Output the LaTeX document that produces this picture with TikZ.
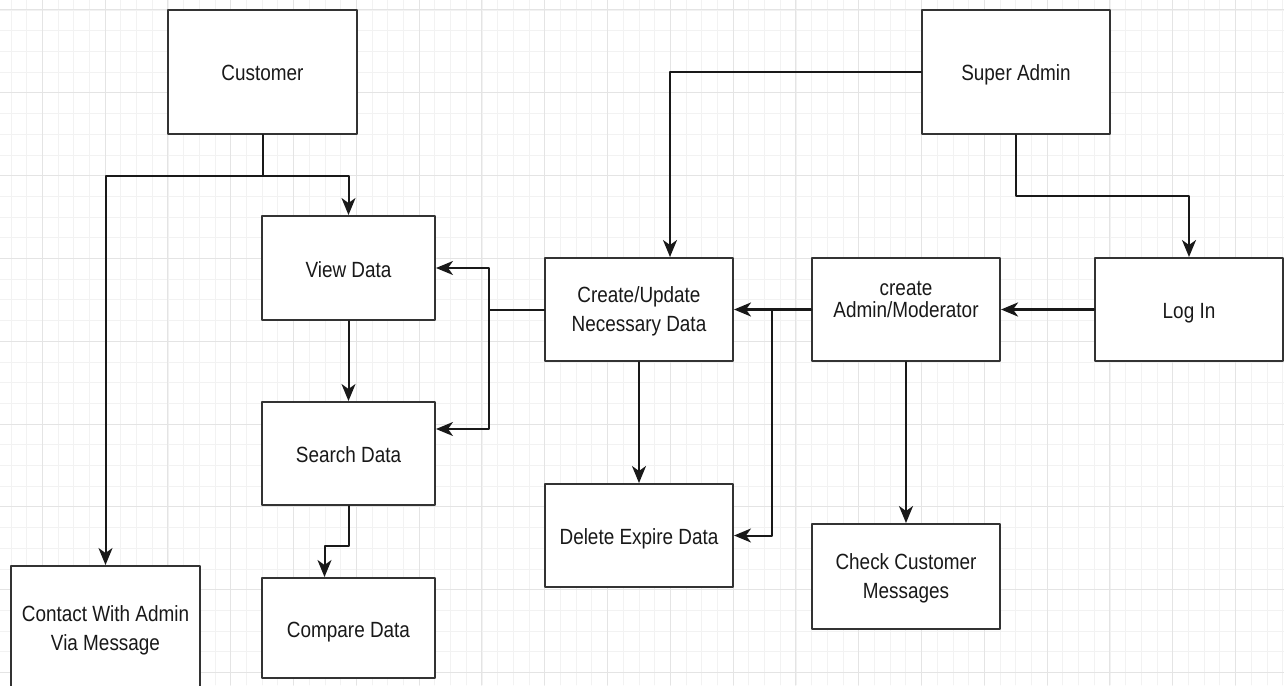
\documentclass[tikz,border=0pt]{standalone}
\usepackage{fontspec}
\setmainfont{Liberation Sans}[FakeStretch=0.86]
\usetikzlibrary{arrows.meta}
\definecolor{boxline}{RGB}{51,51,51}
\definecolor{gridminor}{RGB}{242,242,242}
\definecolor{gridmajor}{RGB}{228,228,228}

\begin{document}
\begin{tikzpicture}[line cap=round,line join=round,>={Stealth[length=17pt,width=14pt,inset=5pt]},x=1pt,y=-1pt,
  box/.style={draw=boxline,line width=2pt,fill=white,align=center,inner sep=0pt,text=black!90,font=\fontsize{22}{29}\selectfont},
  oneline/.style={text height=20pt,text depth=2pt},
  twoline/.style={text depth=-8pt},
  conn/.style={->,line width=2pt,black!90}]
\useasboundingbox (0,0) rectangle (1284,685);
\fill[white] (0,0) rectangle (1284,685);
% grid
\foreach \i in {0,...,81} \draw[gridminor,line width=0.8pt] ({10.9+15.7*\i},0) -- ++(0,685);
\foreach \j in {0,...,32} \draw[gridminor,line width=0.8pt] (0,{10+20.7*\j}) -- ++(1284,0);
\foreach \i in {0,...,19} \draw[gridmajor,line width=1pt] ({42.3+62.8*\i},0) -- ++(0,685);
\foreach \j in {0,...,8} \draw[gridmajor,line width=1pt] (0,{10+82.8*\j}) -- ++(1284,0);
% boxes
\node[box,oneline,minimum width=189pt,minimum height=124pt] (cust) at (262.5,72) {Customer};
\node[box,oneline,minimum width=188pt,minimum height=124pt] (sadm) at (1016,72) {Super Admin};
\node[box,oneline,minimum width=173pt,minimum height=104pt] (view) at (348.5,268) {View Data};
\node[box,twoline,minimum width=188pt,minimum height=103pt] (crup) at (639,309.5) {Create/Update\\Necessary Data};
\node[box,minimum width=188pt,minimum height=103pt,font=\fontsize{22}{22}\selectfont,text depth=21pt] (cadm) at (906,309.5) {create\\Admin/Moderator};
\node[box,oneline,minimum width=188pt,minimum height=103pt] (login) at (1189,309.5) {Log In};
\node[box,oneline,minimum width=173pt,minimum height=103pt] (srch) at (348.5,453.5) {Search Data};
\node[box,oneline,minimum width=188pt,minimum height=103pt] (dele) at (639,535.5) {Delete Expire Data};
\node[box,twoline,minimum width=188pt,minimum height=105pt] (chk) at (906,576.5) {Check Customer\\Messages};
\node[box,twoline,minimum width=189pt,minimum height=124pt] (cont) at (105.5,628) {Contact With Admin\\Via Message};
\node[box,oneline,minimum width=173pt,minimum height=100pt] (comp) at (348.5,628) {Compare Data};
% connectors
\draw[conn] (cust.south) -- ++(0,41) -| (cont.north);
\draw[conn] (cust.south) -- ++(0,41) -| (view.north);
\draw[conn] (sadm.west) -| ([xshift=31pt]crup.north);
\draw[conn] (sadm.south) -- ++(0,61) -| (login.north);
\draw[conn,line width=2.9pt] (login.west) -- (cadm.east);
\draw[conn,line width=2.5pt] (cadm.west) -- (crup.east);
\draw[conn] (cadm.west) -- ++(-39,0) |- (dele.east);
\draw[conn] (crup.west) -- ++(-55,0) |- (view.east);
\draw[conn] (crup.west) -- ++(-55,0) |- ([yshift=24.5pt]srch.east);
\draw[conn] (crup.south) -- (dele.north);
\draw[conn] (view.south) -- (srch.north);
\draw[conn] (srch.south) -- ++(0,40) -| ([xshift=-24pt]comp.north);
\draw[conn] (cadm.south) -- (chk.north);
\end{tikzpicture}
\end{document}
